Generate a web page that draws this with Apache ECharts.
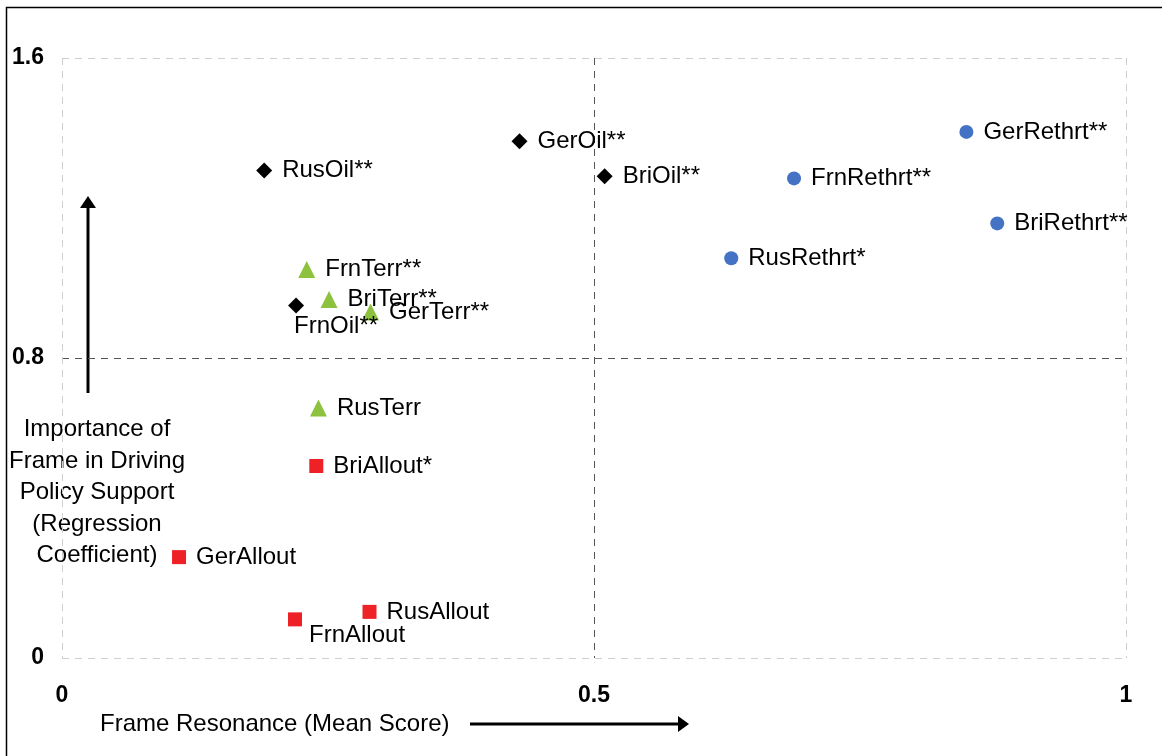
<!DOCTYPE html>
<html>
<head>
<meta charset="utf-8">
<script src="https://cdn.jsdelivr.net/npm/echarts@6/dist/echarts.min.js"></script>
<style>
html,body{margin:0;padding:0;background:#fff;}
#chart{width:1162px;height:756px;}
</style>
</head>
<body>
<div id="chart"></div>
<script>
// ---- data ----
const oilNames = ['RusOil**', 'GerOil**', 'BriOil**', 'FrnOil**'];
const oilX = [0.19, 0.43, 0.51, 0.22];
const oilY = [1.30, 1.378, 1.285, 0.94];

const rethrtNames = ['GerRethrt**', 'FrnRethrt**', 'BriRethrt**', 'RusRethrt*'];
const rethrtX = [0.85, 0.688, 0.879, 0.629];
const rethrtY = [1.403, 1.279, 1.159, 1.066];

const terrNames = ['FrnTerr**', 'BriTerr**', 'GerTerr**', 'RusTerr'];
const terrX = [0.23, 0.251, 0.29, 0.241];
const terrY = [1.036, 0.956, 0.923, 0.667];

const alloutNames = ['BriAllout*', 'GerAllout', 'FrnAllout', 'RusAllout'];
const alloutX = [0.239, 0.11, 0.219, 0.289];
const alloutY = [0.512, 0.269, 0.103, 0.123];

const xTicks = [0, 0.5, 1];
const yTicks = [0, 0.8, 1.6];

const yTitle = 'Importance of\nFrame in Driving\nPolicy Support\n(Regression\nCoefficient)';
const xTitle = 'Frame Resonance (Mean Score)';

// labels placed below the marker
const belowLabels = {
  'FrnOil**': {position: 'bottom', align: 'left', offset: [-2, 0], distance: 1},
  'FrnAllout': {position: 'bottom', align: 'left', offset: [14, -3], distance: 0}
};

function build(names, xs, ys) {
  return names.map((n, i) => {
    const item = {name: n, value: [xs[i], ys[i]]};
    if (belowLabels[n]) item.label = belowLabels[n];
    return item;
  });
}

const FONT = '"Liberation Sans", Arial, sans-serif';
const labelStyle = {
  show: true, position: 'right', distance: 10,
  formatter: '{b}', color: '#000', fontSize: 24, fontFamily: FONT
};

const chart = echarts.init(document.getElementById('chart'), null, {renderer: 'canvas'});
chart.setOption({
  animation: false,
  backgroundColor: '#fff',
  grid: {left: 62, right: 36, top: 58, bottom: 98, containLabel: false},
  xAxis: {
    type: 'value', min: 0, max: 1, interval: 0.5,
    axisLine: {show: false}, axisTick: {show: false},
    axisLabel: {
      margin: 26, color: '#000', fontWeight: 'bold', fontSize: 23, fontFamily: FONT,
      formatter: v => xTicks.includes(v) ? String(v) : ''
    },
    splitLine: {show: true, lineStyle: {color: ['#cfcfcf', '#555', '#cfcfcf'], type: [7, 6], width: 1}}
  },
  yAxis: {
    type: 'value', min: 0, max: 1.6, interval: 0.8,
    axisLine: {show: false}, axisTick: {show: false},
    axisLabel: {
      margin: 18, color: '#000', fontWeight: 'bold', fontSize: 23, fontFamily: FONT,
      formatter: v => yTicks.includes(v) ? String(v) : ''
    },
    splitLine: {show: true, lineStyle: {color: ['#cfcfcf', '#555', '#cfcfcf'], type: [7, 6], width: 1}}
  },
  series: [
    {type: 'scatter', name: 'Oil', symbol: 'diamond', symbolSize: 16,
     itemStyle: {color: '#000', opacity: 1}, label: labelStyle, data: build(oilNames, oilX, oilY)},
    {type: 'scatter', name: 'Rethrt', symbol: 'circle', symbolSize: 14,
     itemStyle: {color: '#4472C4', opacity: 1}, label: labelStyle, data: build(rethrtNames, rethrtX, rethrtY)},
    {type: 'scatter', name: 'Terr', symbol: 'triangle', symbolSize: 17,
     itemStyle: {color: '#8DC23F', opacity: 1}, label: labelStyle, data: build(terrNames, terrX, terrY)},
    {type: 'scatter', name: 'Allout', symbol: 'rect', symbolSize: 14,
     itemStyle: {color: '#EE2226', opacity: 1}, label: labelStyle, data: build(alloutNames, alloutX, alloutY)}
  ],
  graphic: [
    // outer frame (top and left edges visible)
    {type: 'polyline', shape: {points: [[6.5, 760], [6.5, 7.5], [1170, 7.5]]},
     style: {stroke: '#000', lineWidth: 1.5, fill: null}, silent: true},
    // y title
    {type: 'text', x: 97, y: 414,
     style: {text: yTitle, align: 'center', verticalAlign: 'top', fill: '#000',
             font: '24px ' + FONT, lineHeight: 31.5}, silent: true},
    // vertical arrow
    {type: 'line', shape: {x1: 88, y1: 393, x2: 88, y2: 205},
     style: {stroke: '#000', lineWidth: 3}, silent: true},
    {type: 'polygon', shape: {points: [[88, 196], [80, 208], [96, 208]]},
     style: {fill: '#000'}, silent: true},
    // x title
    {type: 'text', x: 100, y: 724,
     style: {text: xTitle, verticalAlign: 'middle', fill: '#000', font: '24px ' + FONT}, silent: true},
    // horizontal arrow
    {type: 'line', shape: {x1: 470, y1: 724, x2: 680, y2: 724},
     style: {stroke: '#000', lineWidth: 3}, silent: true},
    {type: 'polygon', shape: {points: [[689, 724], [678, 716], [678, 732]]},
     style: {fill: '#000'}, silent: true}
  ]
});
</script>
</body>
</html>
